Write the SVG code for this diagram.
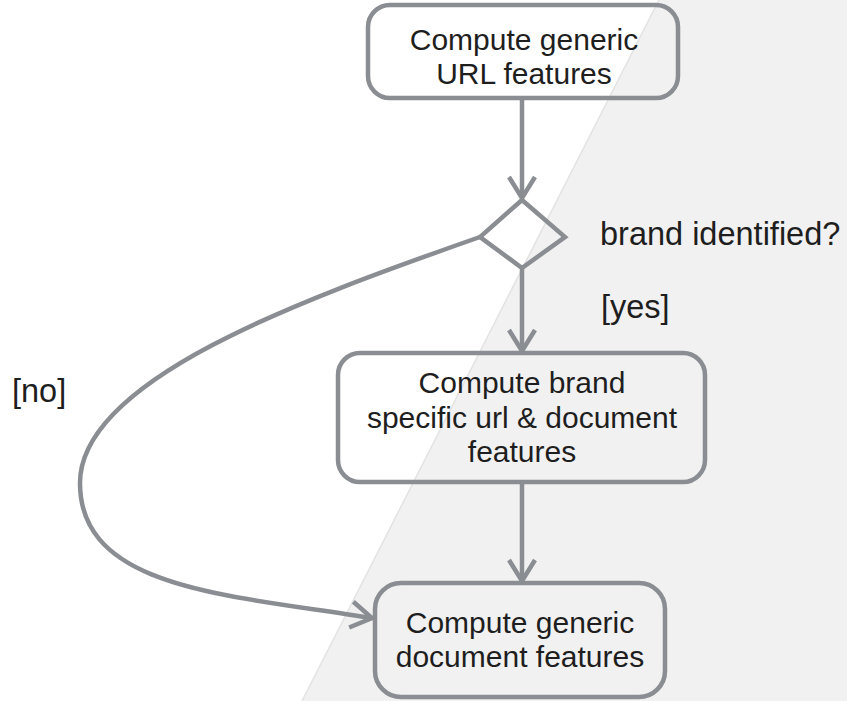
<svg xmlns="http://www.w3.org/2000/svg" width="847" height="701" viewBox="0 0 847 701">
<style>
.node{fill:none;stroke:#8a8d91;stroke-width:4.5}
.conn{fill:none;stroke:#8a8d91;stroke-width:4.5}
.t{font-family:"Liberation Sans",Arial,sans-serif;font-size:30px;fill:#1e1e1e;text-anchor:middle}
.l{font-family:"Liberation Sans",Arial,sans-serif;font-size:32.5px;fill:#1e1e1e}
</style>
<defs>
<marker id="arr" viewBox="-26 -16 30 32" refX="0" refY="0" markerWidth="30" markerHeight="32" markerUnits="userSpaceOnUse" orient="auto">
<path d="M-21,-13 L0,0 L-21,13" fill="none" stroke="#8a8d91" stroke-width="4.5"/>
</marker>
</defs>
<rect x="0" y="0" width="847" height="701" fill="#ffffff"/>
<polygon points="659,0 847,0 847,701 302,701" fill="#f1f1f1"/>
<line x1="659" y1="0" x2="302" y2="701" stroke="#e3e3e3" stroke-width="1.5"/>
<g id="connectors">
<line class="conn" x1="522" y1="99" x2="522" y2="198" marker-end="url(#arr)"/>
<line class="conn" x1="522" y1="268" x2="522" y2="351" marker-end="url(#arr)"/>
<line class="conn" x1="522" y1="482" x2="522" y2="581" marker-end="url(#arr)"/>
<path class="conn" d="M480,237 C300,300 80,380 80,483 C80,590 230,595 372,618" marker-end="url(#arr)"/>
</g>
<g id="n_url">
<rect class="node" x="368" y="5" width="310" height="93" rx="22"/>
<text class="t" x="524" y="50">Compute generic</text>
<text class="t" x="524" y="84">URL features</text>
</g>
<g id="n_decision">
<polygon class="node" points="522,200 565,237 522,268 480,237"/>
<text class="l" x="600" y="245">brand identified?</text>
</g>
<g id="lbl_yes"><text class="l" x="601" y="318">[yes]</text></g>
<g id="lbl_no"><text class="l" x="12" y="402">[no]</text></g>
<g id="n_brand">
<rect class="node" x="338" y="353" width="367" height="129" rx="22"/>
<text class="t" x="522" y="393">Compute brand</text>
<text class="t" x="522" y="428">specific url &amp; document</text>
<text class="t" x="522" y="462">features</text>
</g>
<g id="n_doc">
<rect class="node" x="375" y="583" width="290" height="114" rx="26"/>
<text class="t" x="520" y="633">Compute generic</text>
<text class="t" x="520" y="667">document features</text>
</g>
</svg>
